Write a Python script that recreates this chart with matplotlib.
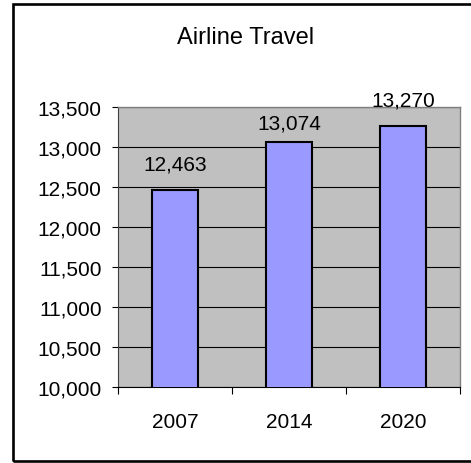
#!/usr/bin/env python3
"""Excel-style bar chart: Airline Travel."""

import matplotlib

matplotlib.use("Agg")
import matplotlib.pyplot as plt
from matplotlib.patches import Rectangle
from matplotlib.ticker import FuncFormatter, MultipleLocator

YEARS = ["2007", "2014", "2020"]
TRAVEL = [12463, 13074, 13270]
Y_MIN, Y_MAX, Y_STEP = 10000, 13500, 500

BAR_COLOR = "#9999FF"
PLOT_BG = "#C0C0C0"
EDGE = "#000000"

plt.rcParams.update(
    {
        "font.family": ["Liberation Sans", "DejaVu Sans"],
        "font.size": 15,
    }
)

fig = plt.figure(figsize=(4.71, 4.64), dpi=100)
fig.patch.set_facecolor("white")

# outer chart-area frame (right edge runs off the canvas)
fig.patches.append(
    Rectangle(
        (0.0283, 0.0043),
        1.0,
        0.985,
        transform=fig.transFigure,
        fill=False,
        edgecolor="black",
        linewidth=1.9,
        zorder=0,
    )
)

ax = fig.add_axes([0.2505, 0.1638, 0.726, 0.6024])
ax.set_facecolor(PLOT_BG)

x = list(range(len(YEARS)))
ax.bar(x, TRAVEL, width=0.40, color=BAR_COLOR, edgecolor=EDGE, linewidth=1.5, zorder=3)

ax.set_xlim(-0.5, len(YEARS) - 0.5)
ax.set_ylim(Y_MIN, Y_MAX)
ax.yaxis.set_major_locator(MultipleLocator(Y_STEP))
ax.yaxis.set_major_formatter(FuncFormatter(lambda v, _p: f"{v:,.0f}"))
ax.grid(axis="y", color="black", linewidth=0.8, zorder=1)

ax.set_xticks(x)
ax.set_xticklabels(YEARS)
ax.set_xticks([i - 0.5 for i in range(len(YEARS) + 1)], minor=True)
ax.tick_params(axis="x", which="major", length=0, pad=18)
ax.tick_params(axis="x", which="minor", length=5, width=0.8, direction="out")
ax.tick_params(axis="y", length=4.3, width=0.8, direction="out", pad=7.5)

for side in ("top", "right"):
    ax.spines[side].set_color("#808080")
    ax.spines[side].set_linewidth(1.0)
ax.spines["left"].set_color("#404040")
ax.spines["left"].set_linewidth(0.8)
ax.spines["bottom"].set_color("black")
ax.spines["bottom"].set_linewidth(0.8)

# data labels above the bars (Excel nudged the middle one down a bit)
label_pad = (15, 9.5, 15)
for xi, val, pad in zip(x, TRAVEL, label_pad):
    ax.annotate(
        f"{val:,}",
        (xi, val),
        xytext=(0, pad),
        textcoords="offset points",
        ha="center",
        va="baseline",
        fontsize=15,
        annotation_clip=False,
        zorder=5,
    )

fig.text(0.521, 0.905, "Airline Travel", ha="center", va="baseline", fontsize=17)

fig.savefig("out.png", dpi=100)
plt.close(fig)
